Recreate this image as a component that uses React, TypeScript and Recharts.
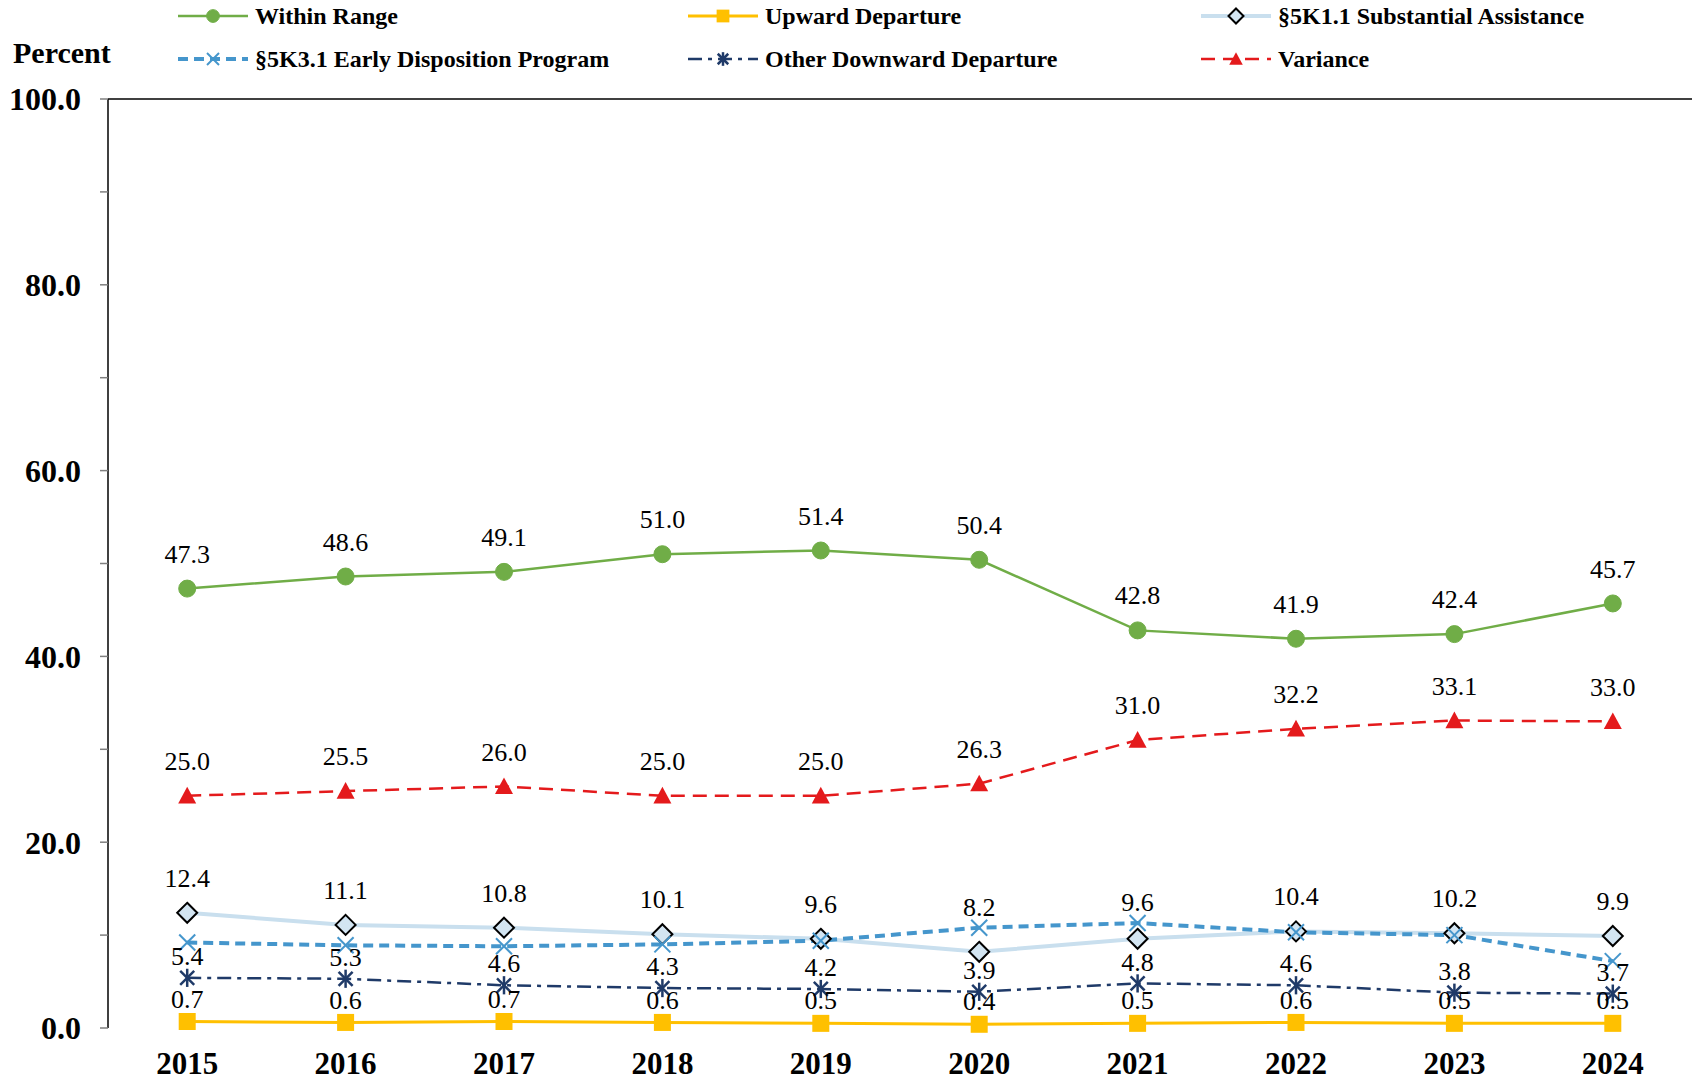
import React from "react";
import { LineChart, Line, XAxis, YAxis, LabelList, ReferenceLine } from "recharts";

const years = ["2015", "2016", "2017", "2018", "2019", "2020", "2021", "2022", "2023", "2024"];
const withinRange = [47.3, 48.6, 49.1, 51.0, 51.4, 50.4, 42.8, 41.9, 42.4, 45.7];
const upwardDeparture = [0.7, 0.6, 0.7, 0.6, 0.5, 0.4, 0.5, 0.6, 0.5, 0.5];
const substantialAssistance = [12.4, 11.1, 10.8, 10.1, 9.6, 8.2, 9.6, 10.4, 10.2, 9.9];
const earlyDisposition = [9.2, 8.9, 8.8, 9.0, 9.4, 10.8, 11.3, 10.3, 10.0, 7.2];
const otherDownward = [5.4, 5.3, 4.6, 4.3, 4.2, 3.9, 4.8, 4.6, 3.8, 3.7];
const variance = [25.0, 25.5, 26.0, 25.0, 25.0, 26.3, 31.0, 32.2, 33.1, 33.0];
const yTicks = [0, 10, 20, 30, 40, 50, 60, 70, 80, 90, 100];

const data = years.map((year, i) => ({
  idx: i,
  year,
  within: withinRange[i],
  upward: upwardDeparture[i],
  subst: substantialAssistance[i],
  edp: earlyDisposition[i],
  other: otherDownward[i],
  variance: variance[i],
}));

const boundaryTicks = years.map((_, i) => i - 0.5).concat([years.length - 0.5]);
const labelTicks = years.map((_, i) => i);

const FONT = "'Liberation Serif', 'Times New Roman', serif";
// plot height in px per percent, used to keep the substantial-assistance label clear of the EDP marker
const PX_PER_UNIT = 9.29;

type Shape = "circle" | "square" | "diamond" | "x" | "star" | "triangle";

function Marker({ shape, cx, cy, color, fill, scale = 1 }: { shape: Shape; cx: number; cy: number; color: string; fill?: string; scale?: number }) {
  const s = scale;
  switch (shape) {
    case "circle":
      return <circle cx={cx} cy={cy} r={8.5 * s} fill={color} stroke={color} />;
    case "square":
      return <rect x={cx - 8.5 * s} y={cy - 8.5 * s} width={17 * s} height={17 * s} fill={color} />;
    case "diamond": {
      const d = 10 * s;
      return (
        <polygon
          points={`${cx},${cy - d} ${cx + d},${cy} ${cx},${cy + d} ${cx - d},${cy}`}
          fill={fill}
          stroke="#000"
          strokeWidth={2}
        />
      );
    }
    case "x": {
      const d = 8 * s;
      return (
        <g stroke={color} strokeWidth={2}>
          <line x1={cx - d} y1={cy - d} x2={cx + d} y2={cy + d} />
          <line x1={cx - d} y1={cy + d} x2={cx + d} y2={cy - d} />
        </g>
      );
    }
    case "star": {
      const d = 7 * s;
      return (
        <g stroke={color} strokeWidth={2.5}>
          <line x1={cx - d} y1={cy - d} x2={cx + d} y2={cy + d} />
          <line x1={cx - d} y1={cy + d} x2={cx + d} y2={cy - d} />
          <line x1={cx} y1={cy - d * 1.3} x2={cx} y2={cy + d * 1.3} />
        </g>
      );
    }
    case "triangle": {
      const d = 9 * s;
      return <polygon points={`${cx},${cy - d} ${cx + d},${cy + d * 0.85} ${cx - d},${cy + d * 0.85}`} fill={color} />;
    }
  }
  return null;
}

const series = [
  { key: "within", name: "Within Range", color: "#70AD47", width: 2.5, dash: undefined, shape: "circle" as Shape, fill: undefined, labels: true, lift: 35 },
  { key: "upward", name: "Upward Departure", color: "#FFC000", width: 3, dash: undefined, shape: "square" as Shape, fill: undefined, labels: true, lift: 23 },
  { key: "subst", name: "§5K1.1 Substantial Assistance", color: "#C9DFEE", width: 4, dash: undefined, shape: "diamond" as Shape, fill: "#D3E5F2", labels: true, lift: 35 },
  { key: "edp", name: "§5K3.1 Early Disposition Program", color: "#4596CC", width: 4, dash: "10 6", shape: "x" as Shape, fill: undefined, labels: false, lift: 0 },
  { key: "other", name: "Other Downward Departure", color: "#1F3A68", width: 2.5, dash: "14 6 4 6", shape: "star" as Shape, fill: undefined, labels: true, lift: 22 },
  { key: "variance", name: "Variance", color: "#E41A1C", width: 2.5, dash: "14 8", shape: "triangle" as Shape, fill: undefined, labels: true, lift: 35 },
];

const legendPos = [
  { x: 178, y: 16 },
  { x: 688, y: 16 },
  { x: 1201, y: 16 },
  { x: 178, y: 59 },
  { x: 688, y: 59 },
  { x: 1201, y: 59 },
];

function makeLabel(key: string, lift: number) {
  return (props: any) => {
    const vb = props.viewBox || {};
    const x = vb.x ?? props.x;
    const y = vb.y ?? props.y;
    const i = props.index;
    if (x == null || y == null) return null;
    let cy = y - lift;
    if (key === "subst" && i != null) {
      const gap = (earlyDisposition[i] - substantialAssistance[i]) * PX_PER_UNIT;
      cy = Math.min(cy, y - gap - 21);
    }
    return (
      <text x={x} y={cy} dy="0.35em" textAnchor="middle" fontFamily={FONT} fontSize={26} fill="#000">
        {Number(props.value).toFixed(1)}
      </text>
    );
  };
}

function LegendOverlay() {
  return (
    <svg width={1692} height={90} style={{ position: "absolute", left: 0, top: 0 }}>
      <text x={13} y={63} fontFamily={FONT} fontWeight="bold" fontSize={30} fill="#000">
        Percent
      </text>
      {series.map((s, i) => {
        const p = legendPos[i];
        return (
          <g key={s.key}>
            <line x1={p.x} y1={p.y} x2={p.x + 70} y2={p.y} stroke={s.color} strokeWidth={s.width} strokeDasharray={s.dash} />
            <Marker shape={s.shape} cx={p.x + 35} cy={p.y} color={s.color} fill={s.fill} scale={0.75} />
            <text x={p.x + 77} y={p.y} dy="0.35em" fontFamily={FONT} fontWeight="bold" fontSize={24} fill="#000">
              {s.name}
            </text>
          </g>
        );
      })}
    </svg>
  );
}

export default function App() {
  return (
    <div style={{ position: "absolute", left: 0, top: 0, width: 1692, height: 1083, background: "#fff" }}>
      <LineChart width={1692} height={1083} data={data} margin={{ top: 99, right: 0, bottom: 0, left: 0 }}>
        <XAxis
          xAxisId="grid"
          dataKey="idx"
          type="number"
          domain={[-0.5, years.length - 0.5]}
          ticks={boundaryTicks}
          tickFormatter={() => ""}
          height={0}
          tickSize={9}
          tickLine={{ stroke: "#7f7f7f", strokeWidth: 1.5 }}
          axisLine={{ stroke: "#000", strokeWidth: 1.5 }}
          interval={0}
        />
        <XAxis
          xAxisId="lab"
          dataKey="idx"
          type="number"
          domain={[-0.5, years.length - 0.5]}
          ticks={labelTicks}
          tickFormatter={(v: number) => years[v] ?? ""}
          height={55}
          tickSize={0}
          tickMargin={24}
          tickLine={false}
          axisLine={false}
          interval={0}
          tick={{ fontFamily: FONT, fontWeight: "bold", fontSize: 31, fill: "#000" }}
        />
        <YAxis
          domain={[0, 100]}
          ticks={yTicks}
          width={108}
          interval={0}
          tickSize={8}
          tickMargin={19}
          tickFormatter={(v: number) => (v % 20 === 0 ? v.toFixed(1) : "")}
          tickLine={{ stroke: "#7f7f7f", strokeWidth: 1.5 }}
          axisLine={{ stroke: "#000", strokeWidth: 1.5 }}
          tick={{ fontFamily: FONT, fontWeight: "bold", fontSize: 32, fill: "#000" }}
        />
        <ReferenceLine xAxisId="lab" y={100} stroke="#404040" strokeWidth={2} />
        {series.map((s) => (
          <Line
            key={s.key}
            xAxisId="lab"
            dataKey={s.key}
            name={s.name}
            stroke={s.color}
            strokeWidth={s.width}
            strokeDasharray={s.dash}
            isAnimationActive={false}
            dot={(p: any) => <Marker key={`${s.key}-${p.index}`} shape={s.shape} cx={p.cx} cy={p.cy} color={s.color} fill={s.fill} />}
            activeDot={false}
          >
            {s.labels && <LabelList dataKey={s.key} content={makeLabel(s.key, s.lift)} />}
          </Line>
        ))}
      </LineChart>
      <LegendOverlay />
    </div>
  );
}
